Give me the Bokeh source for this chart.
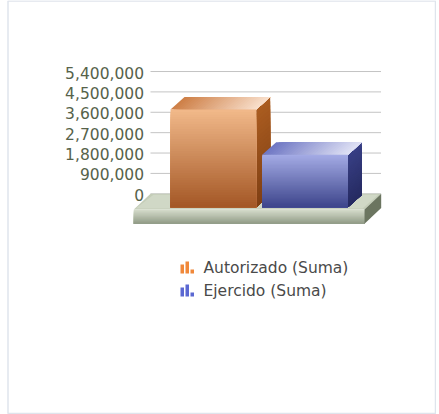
import numpy as np
from bokeh.plotting import figure
from bokeh.models import Range1d
from bokeh.core.properties import value
from bokeh.embed import file_html
from bokeh.resources import INLINE

# ---- data ----
series = ["Autorizado (Suma)", "Ejercido (Suma)"]
values = [4310000, 2315000]
tick_values = [0, 900000, 1800000, 2700000, 3600000, 4500000, 5400000]
tick_labels = ["0", "900,000", "1,800,000", "2,700,000", "3,600,000", "4,500,000", "5,400,000"]

# ---- styles ----
front_top = [(241, 184, 137), (163, 170, 228)]
front_bot = [(164, 88, 38), (62, 70, 140)]
side_top = [(170, 92, 32), (56, 63, 132)]
side_bot = [(128, 64, 20), (38, 43, 98)]
topf_left = [(206, 128, 72), (112, 120, 196)]
topf_right = [(248, 222, 202), (222, 224, 244)]
icon_col = ["#f0883a", "#5b68d2"]

W, H = 436, 414
PX = 900000 / 20.38          # value units per pixel
BASE_PAGE_Y = 193.3          # back-plane zero (pixel row from top)
BASE_FROM_BOTTOM = H - BASE_PAGE_Y


def ry(page_y):
    """pixel row (from top) -> value units"""
    return (BASE_PAGE_Y - page_y) * PX


p = figure(width=W, height=H, output_backend="svg", toolbar_location=None,
           x_range=Range1d(0, W),
           y_range=Range1d(-BASE_FROM_BOTTOM * PX, (H - BASE_FROM_BOTTOM) * PX),
           x_axis_type=None, y_axis_type=None, min_border=0)
p.grid.visible = False
p.outline_line_color = None
p.background_fill_color = "white"
p.border_fill_color = "white"

# panel border
p.quad(left=7.5, right=435, top=ry(0.5), bottom=ry(413), fill_color=None,
       line_color="#dfe4ec", line_width=1.5)


def hexc(c):
    return "#%02x%02x%02x" % tuple(int(round(v)) for v in c)


def mix(a, b, t):
    return tuple(a[i] + (b[i] - a[i]) * t for i in range(3))


# ---- gridlines (back plane) ----
GX0, GX1 = 150, 380.5
p.segment(x0=[GX0] * len(tick_values), x1=[GX1] * len(tick_values),
          y0=tick_values, y1=tick_values, line_color="#c4c4c4", line_width=1)

# ---- tick labels ----
p.text(x=[143.5] * len(tick_values), y=[v - 1.0 * PX for v in tick_values], text=tick_labels,
       text_align="right", text_baseline="middle", text_font=value("DejaVu Sans"),
       text_font_size="15.5px", text_color="#56624a")

# ---- floor ----
FL_X, FL_W = 133.3, 230.7
FL_Y = ry(209)
FL_T = 14.3 * PX
FL_DX, FL_DY = 16.7, 15.7 * PX
# top face
p.patch([FL_X, FL_X + FL_W, FL_X + FL_W + FL_DX, FL_X + FL_DX],
        [FL_Y, FL_Y, FL_Y + FL_DY, FL_Y + FL_DY], fill_color="#c4cdb8", line_color=None)
p.patch([FL_X + 2, FL_X + FL_W - 2, FL_X + FL_W + FL_DX - 3, FL_X + FL_DX + 3],
        [FL_Y + 1 * PX, FL_Y + 1 * PX, FL_Y + FL_DY - 1 * PX, FL_Y + FL_DY - 1 * PX],
        fill_color="#d0d8c6", line_color=None)
# front face gradient (each strip runs to the bottom so no seams)
N = 14
for k in range(N):
    t = k / (N - 1)
    c = mix((212, 219, 202), (146, 156, 136), t)
    y_top = FL_Y - FL_T * k / N
    p.quad(left=FL_X, right=FL_X + FL_W, top=y_top, bottom=FL_Y - FL_T,
           fill_color=hexc(c), line_color=None)
# right side
p.patch([FL_X + FL_W, FL_X + FL_W + FL_DX, FL_X + FL_W + FL_DX, FL_X + FL_W],
        [FL_Y, FL_Y + FL_DY, FL_Y + FL_DY - FL_T, FL_Y - FL_T],
        fill_color="#6b7560", line_color=None)

# ---- 3D bars ----
BAR_X0, BAR_W, BAR_STEP = 170, 85.7, 91.7
BAR_Y0 = ry(206.7)             # front-plane zero
DX, DY = 14, 12.5 * PX

for i, v in enumerate(values):
    x0 = BAR_X0 + i * BAR_STEP
    x1 = x0 + BAR_W
    yb = BAR_Y0
    yt = BAR_Y0 + v
    # side face gradient
    NS = 24
    for k in range(NS):
        t = k / (NS - 1)
        c = mix(side_top[i], side_bot[i], t)
        ya = yt - v * k / NS
        p.patch([x1, x1 + DX, x1 + DX, x1],
                [ya, ya + DY, yb + DY, yb],
                fill_color=hexc(c), line_color=None)
    # top face gradient (left dark -> right light)
    NT = 30
    for k in range(NT):
        t = k / (NT - 1)
        c = mix(topf_left[i], topf_right[i], t)
        xa = x0 + BAR_W * k / NT
        p.patch([xa, x1, x1 + DX, xa + DX], [yt, yt, yt + DY, yt + DY],
                fill_color=hexc(c), line_color=None)
    # front face gradient
    NF = 40
    for k in range(NF):
        t = k / (NF - 1)
        c = mix(front_top[i], front_bot[i], t)
        ya = yt - v * k / NF
        p.quad(left=x0, right=x1, top=ya, bottom=yb,
               fill_color=hexc(c), line_color=None)

# ---- legend ----
LEG_X = 180
for i, name in enumerate(series):
    yc = ry(267 + i * 23)
    hs = [9, 12, 4]
    for j, hgt in enumerate(hs):
        xl = LEG_X + j * 5
        p.quad(left=xl, right=xl + 3.5, bottom=yc - 6 * PX, top=yc - 6 * PX + hgt * PX,
               fill_color=icon_col[i], line_color=None)
    p.text(x=[LEG_X + 23], y=[yc], text=[name], text_align="left", text_baseline="middle",
           text_font=value("DejaVu Sans"), text_font_size="15.5px", text_color="#4a4a4a")

open("out.html", "w").write(file_html(p, INLINE))
